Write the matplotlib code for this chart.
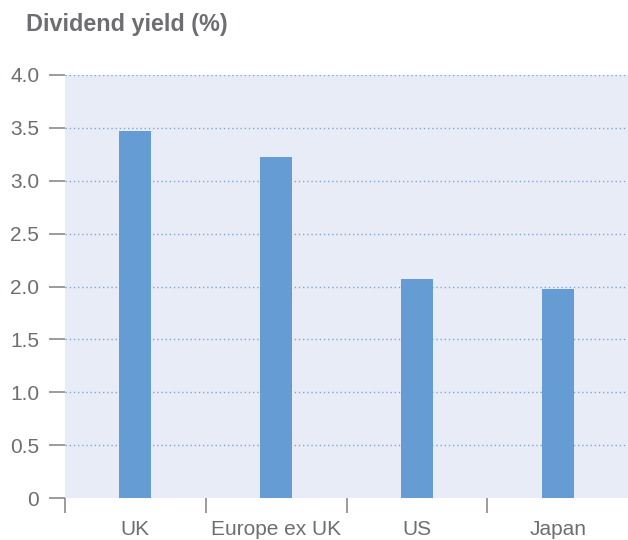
import numpy as np
import matplotlib.pyplot as plt
from matplotlib.ticker import FixedLocator

plt.rcParams['font.family'] = ['Liberation Sans', 'DejaVu Sans']

# data
regions = ['UK', 'Europe ex UK', 'US', 'Japan']
yields = [3.47, 3.22, 2.07, 1.98]
y_ticks = [0, 0.5, 1.0, 1.5, 2.0, 2.5, 3.0, 3.5, 4.0]
y_labels = ['0', '0.5', '1.0', '1.5', '2.0', '2.5', '3.0', '3.5', '4.0']

text_grey = '#6d6e71'
tick_grey = '#8a8a8a'

fig = plt.figure(figsize=(6.28, 5.40), dpi=100)
ax = fig.add_axes([65 / 628, 42 / 540, 563 / 628, 423 / 540])
ax.set_facecolor('#e8ecf7')

x = np.arange(len(regions))
ax.bar(x, yields, width=0.227, color='#669cd4', zorder=3)

ax.set_xlim(-0.5, 3.5)
ax.set_ylim(0, 4.0)

# dotted gridlines (not at zero)
for v in y_ticks[1:]:
    ax.axhline(v, color='#7aa6dc', ls=(0, (1, 2)), lw=1.0, zorder=2)

for s in ax.spines.values():
    s.set_visible(False)

ax.set_yticks(y_ticks)
ax.set_yticklabels(y_labels)
ax.tick_params(axis='y', length=11.5, width=1.2, color=tick_grey, pad=7,
               labelsize=15, labelcolor=text_grey)

ax.set_xticks(x)
ax.set_xticklabels(regions)
ax.tick_params(axis='x', which='major', length=0, pad=16,
               labelsize=15, labelcolor=text_grey)
ax.xaxis.set_minor_locator(FixedLocator([-0.5, 0.5, 1.5, 2.5]))
ax.tick_params(axis='x', which='minor', length=11, width=1.2, color=tick_grey)

fig.text(26 / 628, 1 - 25 / 540, 'Dividend yield (%)', fontsize=16.8,
         fontweight='bold', color=text_grey, ha='left', va='center')

fig.savefig('out.png', dpi=100)
